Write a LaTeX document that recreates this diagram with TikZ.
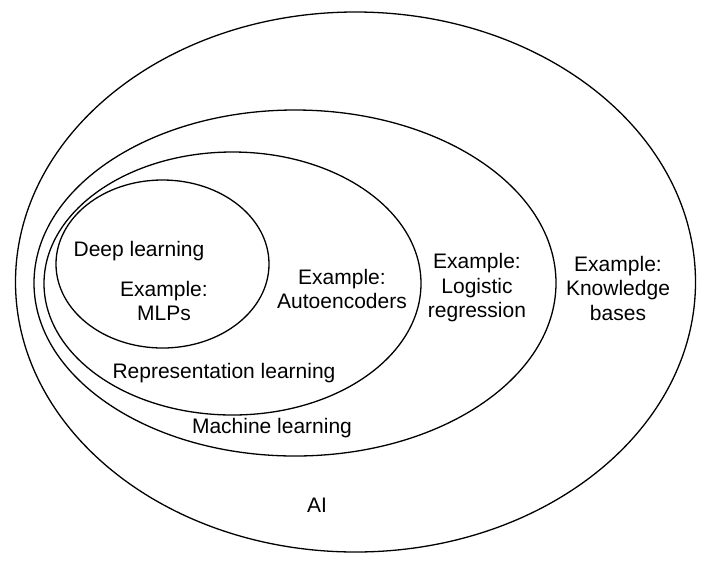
\documentclass[tikz,border=0pt]{standalone}
\usepackage{fontspec}
\setmainfont{Liberation Sans}
\usetikzlibrary{shapes.geometric}
\begin{document}
\begin{tikzpicture}[x=1pt,y=-1pt,
  setellipse/.style={ellipse, draw, line width=1.3pt, inner sep=0pt},
  lbl/.style={align=center, font=\fontsize{21}{24.5}\selectfont, inner sep=0pt}]
\useasboundingbox (0,0) rectangle (712,566);
\node[setellipse, minimum width=680pt, minimum height=540pt] (ai) at (355.5,282) {};
\node[setellipse, minimum width=522pt, minimum height=346pt] (ml) at (295,283) {};
\node[setellipse, minimum width=377pt, minimum height=263pt] (rl) at (232.5,283.5) {};
\node[setellipse, minimum width=213pt, minimum height=168pt] (dl) at (162.5,264) {};
\node[lbl] (tdl) at (139,251) {Deep learning};
\node[lbl] (tmlp) at (164,301) {Example:\\MLPs};
\node[lbl] (tae) at (342,289) {Example:\\Autoencoders};
\node[lbl] (tlr) at (477,288) {Example:\\Logistic\\regression};
\node[lbl] (tkb) at (618,288) {Example:\\Knowledge\\bases};
\node[lbl] (trl) at (224,373) {Representation learning};
\node[lbl] (tml) at (272,428) {Machine learning};
\node[lbl] (tai) at (317,505) {AI};
\end{tikzpicture}
\end{document}
